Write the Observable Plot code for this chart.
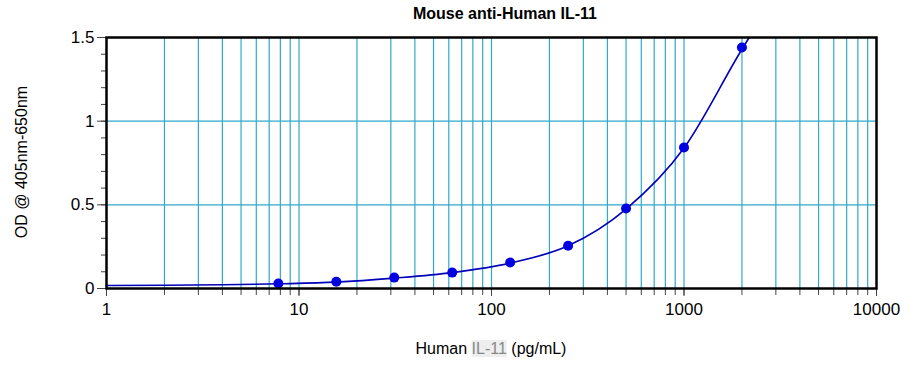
<!DOCTYPE html>
<html><head><meta charset="utf-8">
<script src="https://cdn.jsdelivr.net/npm/d3@7"></script>
<script src="https://cdn.jsdelivr.net/npm/@observablehq/plot@0.6"></script>
<style>
body{margin:0;background:#fff;font-family:"Liberation Sans",Arial,sans-serif;}
#wrap{position:relative;width:924px;height:367px;}
#title{position:absolute;left:0;width:1010px;top:5px;text-align:center;font-weight:bold;font-size:16px;color:#000;}
#ylab{position:absolute;left:22px;top:162px;transform:translate(-50%,-50%) rotate(-90deg);font-size:16px;white-space:nowrap;color:#000;}
#xlab{position:absolute;left:491px;top:340px;transform:translateX(-50%);font-size:16px;white-space:nowrap;color:#000;}
#xlab span{color:#888;background:#eee;}
</style></head>
<body><div id="wrap"><div id="chart"></div>
<div id="title">Mouse anti-Human IL-11</div>
<div id="ylab">OD @ 405nm-650nm</div>
<div id="xlab">Human <span>IL-11</span> (pg/mL)</div>
</div>
<script>
const conc = [7.8125, 15.625, 31.25, 62.5, 125, 250, 500, 1000, 2000];
const od = [0.03, 0.04, 0.065, 0.095, 0.155, 0.255, 0.478, 0.843, 1.44];
const curveX = [1, 2, 4, 8, 15.625, 31.25, 62.5, 125, 250, 500, 1000, 2000, 2180];
const curveY = [0.018, 0.019, 0.022, 0.028, 0.038, 0.062, 0.095, 0.152, 0.255, 0.475, 0.84, 1.43, 1.5];
const xMajor = [1, 10, 100, 1000, 10000];
const yMajor = [0, 0.5, 1, 1.5];
const yMinor = [0,0.1,0.2,0.3,0.4,0.5,0.6,0.7,0.8,0.9,1,1.1,1.2,1.3,1.4,1.5];
const xMinor = [];
for (const d of [1,10,100,1000]) for (let k=1;k<=9;k++) xMinor.push(d*k);
xMinor.push(10000);

const pts = conc.map((c,i)=>({x:c,y:od[i]}));
const crv = curveX.map((c,i)=>({x:c,y:curveY[i]}));

const chart = Plot.plot({
  width: 924, height: 367,
  marginLeft: 106, marginRight: 48, marginTop: 37, marginBottom: 79,
  style: {fontFamily: '"Liberation Sans", Arial, sans-serif', fontSize: "16px", color:"#000", background:"#fff"},
  x: {type: "log", domain: [1, 10000], label: null},
  y: {domain: [0, 1.5], label: null},
  marks: [
    Plot.ruleX(xMinor.filter(v=>v>1 && v<10000), {stroke: "#2fa9cc", strokeWidth: 1.2}),
    Plot.ruleY([0.5, 1], {stroke: "#2fa9cc", strokeWidth: 1.2}),
    Plot.axisY(yMinor, {tickSize: 5, tickFormat: () => "", label: null, stroke:"#444"}),
    Plot.axisY(yMajor, {tickSize: 9, tickPadding: 3, fontSize: 17, tickFormat: d => String(d), label: null, stroke:"#444"}),
    Plot.axisX(xMinor, {tickSize: 7, tickFormat: () => "", label: null, stroke:"#444"}),
    Plot.axisX(xMajor, {tickSize: 8, tickPadding: 6, fontSize: 17, tickFormat: d => String(d), label: null, stroke:"#444"}),
    Plot.line(crv, {x: "x", y: "y", stroke: "#0000b8", strokeWidth: 1.6, curve: "monotone-x"}),
    Plot.dot(pts, {x: "x", y: "y", r: 5, fill: "#0000e0", stroke: "none"}),
    Plot.frame({stroke: "#000", strokeWidth: 2.5})
  ]
});
document.getElementById("chart").appendChild(chart);
</script>
</body></html>
